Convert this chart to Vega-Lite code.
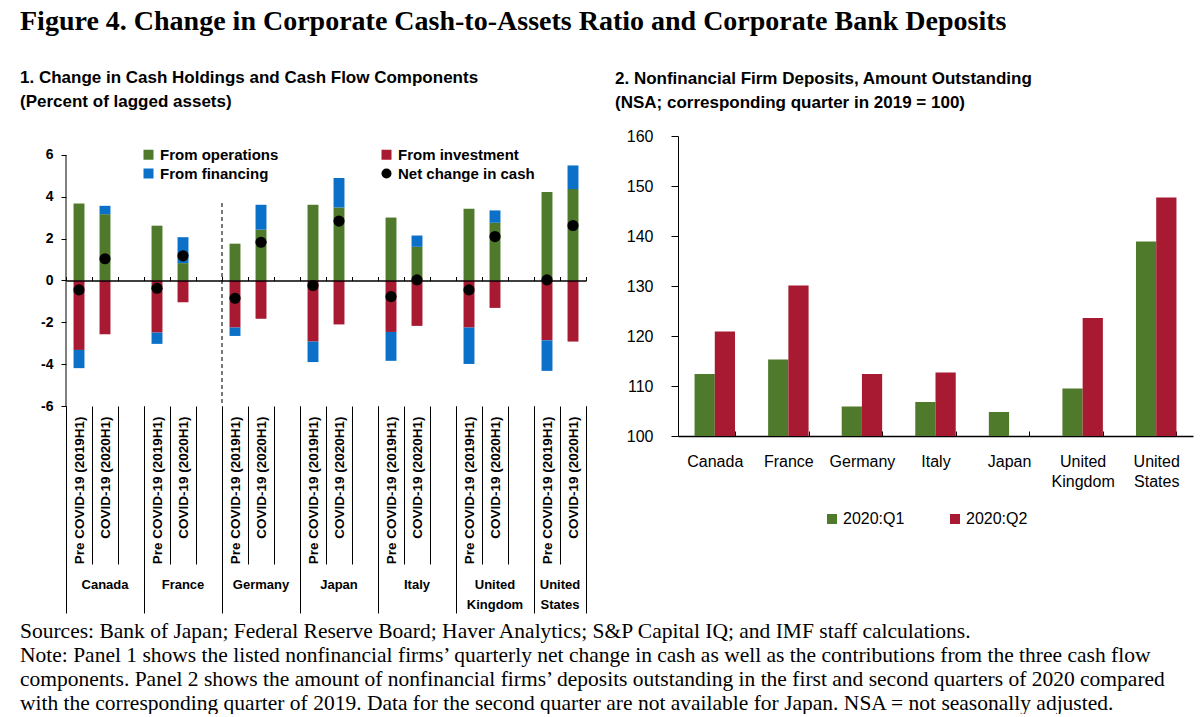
{
  "$schema": "https://vega.github.io/schema/vega-lite/v6.json",
  "padding": {"left": 20, "top": 8, "right": 5, "bottom": 0},
  "background": "white",
  "config": {
    "view": {"stroke": null},
    "font": "Liberation Sans",
    "axis": {"domainColor": "black", "tickColor": "black", "labelColor": "black", "grid": false, "labelFont": "Liberation Sans"},
    "title": {"color": "black"},
    "legend": {"labelColor": "black"}
  },
  "datasets": {
    "flows": [
      {"slot": "Canada|Pre COVID-19 (2019H1)", "series": "From operations", "value": 3.68},
      {"slot": "Canada|Pre COVID-19 (2019H1)", "series": "From investment", "value": -3.32},
      {"slot": "Canada|Pre COVID-19 (2019H1)", "series": "From financing", "value": -0.87},
      {"slot": "Canada|COVID-19 (2020H1)", "series": "From operations", "value": 3.17},
      {"slot": "Canada|COVID-19 (2020H1)", "series": "From investment", "value": -2.57},
      {"slot": "Canada|COVID-19 (2020H1)", "series": "From financing", "value": 0.4},
      {"slot": "France|Pre COVID-19 (2019H1)", "series": "From operations", "value": 2.62},
      {"slot": "France|Pre COVID-19 (2019H1)", "series": "From investment", "value": -2.49},
      {"slot": "France|Pre COVID-19 (2019H1)", "series": "From financing", "value": -0.54},
      {"slot": "France|COVID-19 (2020H1)", "series": "From operations", "value": 0.83},
      {"slot": "France|COVID-19 (2020H1)", "series": "From investment", "value": -1.04},
      {"slot": "France|COVID-19 (2020H1)", "series": "From financing", "value": 1.24},
      {"slot": "Germany|Pre COVID-19 (2019H1)", "series": "From operations", "value": 1.76},
      {"slot": "Germany|Pre COVID-19 (2019H1)", "series": "From investment", "value": -2.25},
      {"slot": "Germany|Pre COVID-19 (2019H1)", "series": "From financing", "value": -0.4},
      {"slot": "Germany|COVID-19 (2020H1)", "series": "From operations", "value": 2.43},
      {"slot": "Germany|COVID-19 (2020H1)", "series": "From investment", "value": -1.83},
      {"slot": "Germany|COVID-19 (2020H1)", "series": "From financing", "value": 1.19},
      {"slot": "Japan|Pre COVID-19 (2019H1)", "series": "From operations", "value": 3.62},
      {"slot": "Japan|Pre COVID-19 (2019H1)", "series": "From investment", "value": -2.92},
      {"slot": "Japan|Pre COVID-19 (2019H1)", "series": "From financing", "value": -0.98},
      {"slot": "Japan|COVID-19 (2020H1)", "series": "From operations", "value": 3.49},
      {"slot": "Japan|COVID-19 (2020H1)", "series": "From investment", "value": -2.1},
      {"slot": "Japan|COVID-19 (2020H1)", "series": "From financing", "value": 1.41},
      {"slot": "Italy|Pre COVID-19 (2019H1)", "series": "From operations", "value": 3.01},
      {"slot": "Italy|Pre COVID-19 (2019H1)", "series": "From investment", "value": -2.46},
      {"slot": "Italy|Pre COVID-19 (2019H1)", "series": "From financing", "value": -1.38},
      {"slot": "Italy|COVID-19 (2020H1)", "series": "From operations", "value": 1.61},
      {"slot": "Italy|COVID-19 (2020H1)", "series": "From investment", "value": -2.17},
      {"slot": "Italy|COVID-19 (2020H1)", "series": "From financing", "value": 0.54},
      {"slot": "United Kingdom|Pre COVID-19 (2019H1)", "series": "From operations", "value": 3.43},
      {"slot": "United Kingdom|Pre COVID-19 (2019H1)", "series": "From investment", "value": -2.25},
      {"slot": "United Kingdom|Pre COVID-19 (2019H1)", "series": "From financing", "value": -1.74},
      {"slot": "United Kingdom|COVID-19 (2020H1)", "series": "From operations", "value": 2.76},
      {"slot": "United Kingdom|COVID-19 (2020H1)", "series": "From investment", "value": -1.31},
      {"slot": "United Kingdom|COVID-19 (2020H1)", "series": "From financing", "value": 0.59},
      {"slot": "United States|Pre COVID-19 (2019H1)", "series": "From operations", "value": 4.23},
      {"slot": "United States|Pre COVID-19 (2019H1)", "series": "From investment", "value": -2.86},
      {"slot": "United States|Pre COVID-19 (2019H1)", "series": "From financing", "value": -1.46},
      {"slot": "United States|COVID-19 (2020H1)", "series": "From operations", "value": 4.37},
      {"slot": "United States|COVID-19 (2020H1)", "series": "From investment", "value": -2.92},
      {"slot": "United States|COVID-19 (2020H1)", "series": "From financing", "value": 1.13}
    ],
    "net": [
      {"slot": "Canada|Pre COVID-19 (2019H1)", "series": "Net change in cash", "value": -0.45},
      {"slot": "Canada|COVID-19 (2020H1)", "series": "Net change in cash", "value": 1.04},
      {"slot": "France|Pre COVID-19 (2019H1)", "series": "Net change in cash", "value": -0.37},
      {"slot": "France|COVID-19 (2020H1)", "series": "Net change in cash", "value": 1.18},
      {"slot": "Germany|Pre COVID-19 (2019H1)", "series": "Net change in cash", "value": -0.85},
      {"slot": "Germany|COVID-19 (2020H1)", "series": "Net change in cash", "value": 1.83},
      {"slot": "Japan|Pre COVID-19 (2019H1)", "series": "Net change in cash", "value": -0.24},
      {"slot": "Japan|COVID-19 (2020H1)", "series": "Net change in cash", "value": 2.84},
      {"slot": "Italy|Pre COVID-19 (2019H1)", "series": "Net change in cash", "value": -0.77},
      {"slot": "Italy|COVID-19 (2020H1)", "series": "Net change in cash", "value": 0.03},
      {"slot": "United Kingdom|Pre COVID-19 (2019H1)", "series": "Net change in cash", "value": -0.45},
      {"slot": "United Kingdom|COVID-19 (2020H1)", "series": "Net change in cash", "value": 2.1},
      {"slot": "United States|Pre COVID-19 (2019H1)", "series": "Net change in cash", "value": 0.03},
      {"slot": "United States|COVID-19 (2020H1)", "series": "Net change in cash", "value": 2.63}
    ],
    "divider": [
      {"slot": "Germany|Pre COVID-19 (2019H1)", "top": 3.7, "bottom": -6}
    ],
    "deposits": [
      {"country": "Canada", "quarter": "2020:Q1", "index": 112.4},
      {"country": "Canada", "quarter": "2020:Q2", "index": 120.9},
      {"country": "France", "quarter": "2020:Q1", "index": 115.3},
      {"country": "France", "quarter": "2020:Q2", "index": 130.1},
      {"country": "Germany", "quarter": "2020:Q1", "index": 105.9},
      {"country": "Germany", "quarter": "2020:Q2", "index": 112.4},
      {"country": "Italy", "quarter": "2020:Q1", "index": 106.8},
      {"country": "Italy", "quarter": "2020:Q2", "index": 112.7},
      {"country": "Japan", "quarter": "2020:Q1", "index": 104.8},
      {"country": "United Kingdom", "quarter": "2020:Q1", "index": 109.5},
      {"country": "United Kingdom", "quarter": "2020:Q2", "index": 123.6},
      {"country": "United States", "quarter": "2020:Q1", "index": 138.9},
      {"country": "United States", "quarter": "2020:Q2", "index": 147.7}
    ]
  },
  "title": {
    "text": "Figure 4. Change in Corporate Cash-to-Assets Ratio and Corporate Bank Deposits",
    "anchor": "start",
    "font": "Liberation Serif",
    "fontSize": 28,
    "fontWeight": "bold",
    "offset": 33
  },
  "vconcat": [
    {
      "title": {
        "text": [
          "Sources: Bank of Japan; Federal Reserve Board; Haver Analytics; S&P Capital IQ; and IMF staff calculations.",
          "Note: Panel 1 shows the listed nonfinancial firms’ quarterly net change in cash as well as the contributions from the three cash flow",
          "components. Panel 2 shows the amount of nonfinancial firms’ deposits outstanding in the first and second quarters of 2020 compared",
          "with the corresponding quarter of 2019. Data for the second quarter are not available for Japan. NSA = not seasonally adjusted."
        ],
        "orient": "bottom",
        "anchor": "start",
        "font": "Liberation Serif",
        "fontSize": 21.5,
        "fontWeight": "normal",
        "lineHeight": 24,
        "offset": 7
      },
      "spacing": 28,
      "resolve": {"scale": {"color": "independent", "shape": "independent"}, "legend": {"color": "independent", "shape": "independent"}},
      "hconcat": [
        {
          "width": 520,
          "height": 270,
          "title": {
            "text": ["1. Change in Cash Holdings and Cash Flow Components", "(Percent of lagged assets)"],
            "anchor": "start",
            "frame": "group",
            "dx": -46,
            "font": "Liberation Sans",
            "fontSize": 17,
            "fontWeight": "bold",
            "lineHeight": 24,
            "offset": 25
          },
          "resolve": {"axis": {"x": "independent"}},
          "layer": [
            {
              "data": {"name": "flows"},
              "mark": {"type": "bar", "width": {"band": 0.42}},
              "encoding": {
                "x": {
                  "field": "slot", "type": "nominal",
                  "scale": {"type": "band", "paddingInner": 0, "paddingOuter": 0, "domain": ["Canada|Pre COVID-19 (2019H1)", "Canada|COVID-19 (2020H1)", "Canada|", "France|Pre COVID-19 (2019H1)", "France|COVID-19 (2020H1)", "France|", "Germany|Pre COVID-19 (2019H1)", "Germany|COVID-19 (2020H1)", "Germany|", "Japan|Pre COVID-19 (2019H1)", "Japan|COVID-19 (2020H1)", "Japan|", "Italy|Pre COVID-19 (2019H1)", "Italy|COVID-19 (2020H1)", "Italy|", "United Kingdom|Pre COVID-19 (2019H1)", "United Kingdom|COVID-19 (2020H1)", "United Kingdom|", "United States|Pre COVID-19 (2019H1)", "United States|COVID-19 (2020H1)"]},
                  "axis": {
                    "orient": "bottom", "title": null, "domain": false,
                    "tickBand": "extent", "tickSize": 158, "tickColor": "black", "tickWidth": 1,
                    "labelExpr": "isValid(datum.value) ? split(datum.value, '|')[1] : ''",
                    "labelAngle": -90, "labelAlign": "right", "labelBaseline": "middle",
                    "labelFontSize": 13.5, "labelFontWeight": "bold", "labelPadding": -148,
                    "labelOverlap": false, "labelLimit": 0
                  }
                },
                "y": {
                  "field": "value", "type": "quantitative", "stack": "zero",
                  "scale": {"domain": [-6, 6.908]},
                  "axis": {"title": null, "domain": false, "values": [-6, -4, -2, 0, 2, 4, 6], "labelExpr": "toString(datum.value)", "tickSize": 5, "labelPadding": 8, "labelFontSize": 14, "labelFontWeight": "bold"}
                },
                "color": {
                  "field": "series", "type": "nominal",
                  "scale": {"domain": ["From operations", "From investment", "From financing", "Net change in cash"], "range": ["#4F7A2B", "#A71A31", "#0A70C8", "#000000"]},
                  "legend": {
                    "orient": "none", "legendX": 75, "legendY": 11, "columns": 2, "direction": "horizontal", "columnPadding": 100, "rowPadding": 3,
                    "title": null, "labelFontSize": 15, "labelFontWeight": "bold", "labelOffset": 4,
                    "symbolSize": 100, "symbolStrokeWidth": 0, "padding": 0
                  }
                },
                "order": {"field": "series", "sort": "descending"}
              }
            },
            {
              "data": {"name": "net"},
              "mark": {"type": "point", "filled": true, "color": "black", "size": 125, "opacity": 1},
              "encoding": {
                "x": {
                  "field": "slot", "type": "nominal",
                  "scale": {"type": "band", "paddingInner": 0, "paddingOuter": 0, "domain": ["Canada|Pre COVID-19 (2019H1)", "Canada|COVID-19 (2020H1)", "Canada|", "France|Pre COVID-19 (2019H1)", "France|COVID-19 (2020H1)", "France|", "Germany|Pre COVID-19 (2019H1)", "Germany|COVID-19 (2020H1)", "Germany|", "Japan|Pre COVID-19 (2019H1)", "Japan|COVID-19 (2020H1)", "Japan|", "Italy|Pre COVID-19 (2019H1)", "Italy|COVID-19 (2020H1)", "Italy|", "United Kingdom|Pre COVID-19 (2019H1)", "United Kingdom|COVID-19 (2020H1)", "United Kingdom|", "United States|Pre COVID-19 (2019H1)", "United States|COVID-19 (2020H1)"]},
                  "axis": {
                    "orient": "bottom", "title": null, "domain": false, "ticks": false,
                    "values": ["Canada|COVID-19 (2020H1)", "France|COVID-19 (2020H1)", "Germany|COVID-19 (2020H1)", "Japan|COVID-19 (2020H1)", "Italy|COVID-19 (2020H1)", "United Kingdom|COVID-19 (2020H1)", "United States|Pre COVID-19 (2019H1)"],
                    "labelExpr": "isValid(datum.value) ? split(split(datum.value, '|')[0], ' ') : ''",
                    "labelAngle": 0, "labelAlign": "center", "labelBaseline": "top", "labelLineHeight": 20,
                    "labelFontSize": 13, "labelFontWeight": "bold", "labelPadding": 172,
                    "labelOffset": {"condition": {"test": "indexof(datum.value, 'United States') == 0", "value": 13}, "value": 0},
                    "labelOverlap": false
                  }
                },
                "y": {"field": "value", "type": "quantitative", "scale": {"domain": [-6, 6.908]}},
                "shape": {
                  "field": "series", "type": "nominal",
                  "scale": {"domain": ["From operations", "From investment", "From financing", "Net change in cash"], "range": ["square", "square", "square", "circle"]}
                }
              }
            },
            {
              "data": {"name": "divider"},
              "mark": {"type": "rule", "color": "#222222", "strokeWidth": 1.2, "strokeDash": [4, 3]},
              "encoding": {
                "x": {
                  "field": "slot", "type": "nominal", "bandPosition": 0,
                  "scale": {"type": "band", "paddingInner": 0, "paddingOuter": 0, "domain": ["Canada|Pre COVID-19 (2019H1)", "Canada|COVID-19 (2020H1)", "Canada|", "France|Pre COVID-19 (2019H1)", "France|COVID-19 (2020H1)", "France|", "Germany|Pre COVID-19 (2019H1)", "Germany|COVID-19 (2020H1)", "Germany|", "Japan|Pre COVID-19 (2019H1)", "Japan|COVID-19 (2020H1)", "Japan|", "Italy|Pre COVID-19 (2019H1)", "Italy|COVID-19 (2020H1)", "Italy|", "United Kingdom|Pre COVID-19 (2019H1)", "United Kingdom|COVID-19 (2020H1)", "United Kingdom|", "United States|Pre COVID-19 (2019H1)", "United States|COVID-19 (2020H1)"]},
                  "axis": {
                    "orient": "bottom", "title": null, "domain": false, "labels": false,
                    "values": ["Canada|", "France|", "Germany|", "Japan|", "Italy|", "United Kingdom|", "United States|COVID-19 (2020H1)"],
                    "bandPosition": 1, "tickSize": 207, "tickWidth": 1
                  }
                },
                "y": {"field": "top", "type": "quantitative", "scale": {"domain": [-6, 6.908]}},
                "y2": {"field": "bottom"}
              }
            },
            {
              "data": {"name": "flows"},
              "mark": {"type": "text"},
              "encoding": {
                "x": {
                  "field": "slot", "type": "nominal",
                  "scale": {"type": "band", "paddingInner": 0, "paddingOuter": 0, "domain": ["Canada|Pre COVID-19 (2019H1)", "Canada|COVID-19 (2020H1)", "Canada|", "France|Pre COVID-19 (2019H1)", "France|COVID-19 (2020H1)", "France|", "Germany|Pre COVID-19 (2019H1)", "Germany|COVID-19 (2020H1)", "Germany|", "Japan|Pre COVID-19 (2019H1)", "Japan|COVID-19 (2020H1)", "Japan|", "Italy|Pre COVID-19 (2019H1)", "Italy|COVID-19 (2020H1)", "Italy|", "United Kingdom|Pre COVID-19 (2019H1)", "United Kingdom|COVID-19 (2020H1)", "United Kingdom|", "United States|Pre COVID-19 (2019H1)", "United States|COVID-19 (2020H1)"]},
                  "axis": {
                    "orient": "top", "offset": -144.5, "title": null, "labels": false,
                    "domain": true, "domainColor": "black", "domainWidth": 1.5,
                    "tickBand": "extent", "tickSize": 4, "tickWidth": 1, "zindex": 1
                  }
                },
                "y": {"datum": 0, "type": "quantitative", "scale": {"domain": [-6, 6.908]}},
                "text": {"value": ""}
              }
            },
            {
              "data": {"name": "divider"},
              "mark": {"type": "rule", "color": "black", "strokeWidth": 1},
              "encoding": {
                "x": {
                  "datum": "Canada|Pre COVID-19 (2019H1)", "type": "nominal", "bandPosition": 0,
                  "scale": {"type": "band", "paddingInner": 0, "paddingOuter": 0, "domain": ["Canada|Pre COVID-19 (2019H1)", "Canada|COVID-19 (2020H1)", "Canada|", "France|Pre COVID-19 (2019H1)", "France|COVID-19 (2020H1)", "France|", "Germany|Pre COVID-19 (2019H1)", "Germany|COVID-19 (2020H1)", "Germany|", "Japan|Pre COVID-19 (2019H1)", "Japan|COVID-19 (2020H1)", "Japan|", "Italy|Pre COVID-19 (2019H1)", "Italy|COVID-19 (2020H1)", "Italy|", "United Kingdom|Pre COVID-19 (2019H1)", "United Kingdom|COVID-19 (2020H1)", "United Kingdom|", "United States|Pre COVID-19 (2019H1)", "United States|COVID-19 (2020H1)"]},
                  "axis": {
                    "orient": "bottom", "title": null, "domain": false, "labels": false,
                    "values": ["Canada|Pre COVID-19 (2019H1)"], "bandPosition": 0, "tickSize": 207, "tickWidth": 1
                  }
                },
                "y": {"datum": 6, "type": "quantitative", "scale": {"domain": [-6, 6.908]}},
                "y2": {"datum": -6}
              }
            }
          ]
        },
        {
          "width": 515,
          "height": 300,
          "title": {
            "text": ["2. Nonfinancial Firm Deposits, Amount Outstanding", "(NSA; corresponding quarter in 2019 = 100)"],
            "anchor": "start",
            "frame": "group",
            "dx": -63,
            "font": "Liberation Sans",
            "fontSize": 17,
            "fontWeight": "bold",
            "lineHeight": 24,
            "offset": 16
          },
          "data": {"name": "deposits"},
          "mark": {"type": "bar"},
          "encoding": {
            "x": {
              "field": "country", "type": "nominal",
              "sort": ["Canada", "France", "Germany", "Italy", "Japan", "United Kingdom", "United States"],
              "scale": {"domain": ["Canada", "France", "Germany", "Italy", "Japan", "United Kingdom", "United States"], "paddingInner": 0.45, "paddingOuter": 0.225},
              "axis": {
                "title": null, "tickBand": "extent", "tickSize": -5, "domainWidth": 1.5,
                "labelAngle": 0, "labelExpr": "isValid(datum.value) ? split(datum.value, ' ') : ''", "labelBaseline": "top", "labelLineHeight": 20,
                "labelFontSize": 16, "labelPadding": 22
              }
            },
            "xOffset": {"field": "quarter", "type": "nominal", "scale": {"domain": ["2020:Q1", "2020:Q2"]}},
            "y": {
              "field": "index", "type": "quantitative",
              "scale": {"domain": [100, 160], "zero": false},
              "axis": {"title": null, "values": [100, 110, 120, 130, 140, 150, 160], "tickSize": 7, "labelPadding": 18, "labelFontSize": 16}
            },
            "y2": {"datum": 100},
            "color": {
              "field": "quarter", "type": "nominal",
              "scale": {"domain": ["2020:Q1", "2020:Q2"], "range": ["#4F7A2B", "#A71A31"]},
              "legend": {
                "orient": "none", "legendX": 146, "legendY": 375, "direction": "horizontal",
                "title": null, "labelFontSize": 16, "labelOffset": 3, "symbolSize": 100, "symbolType": "square",
                "columnPadding": 42, "padding": 0, "symbolStrokeWidth": 0
              }
            }
          }
        }
      ]
    }
  ]
}
